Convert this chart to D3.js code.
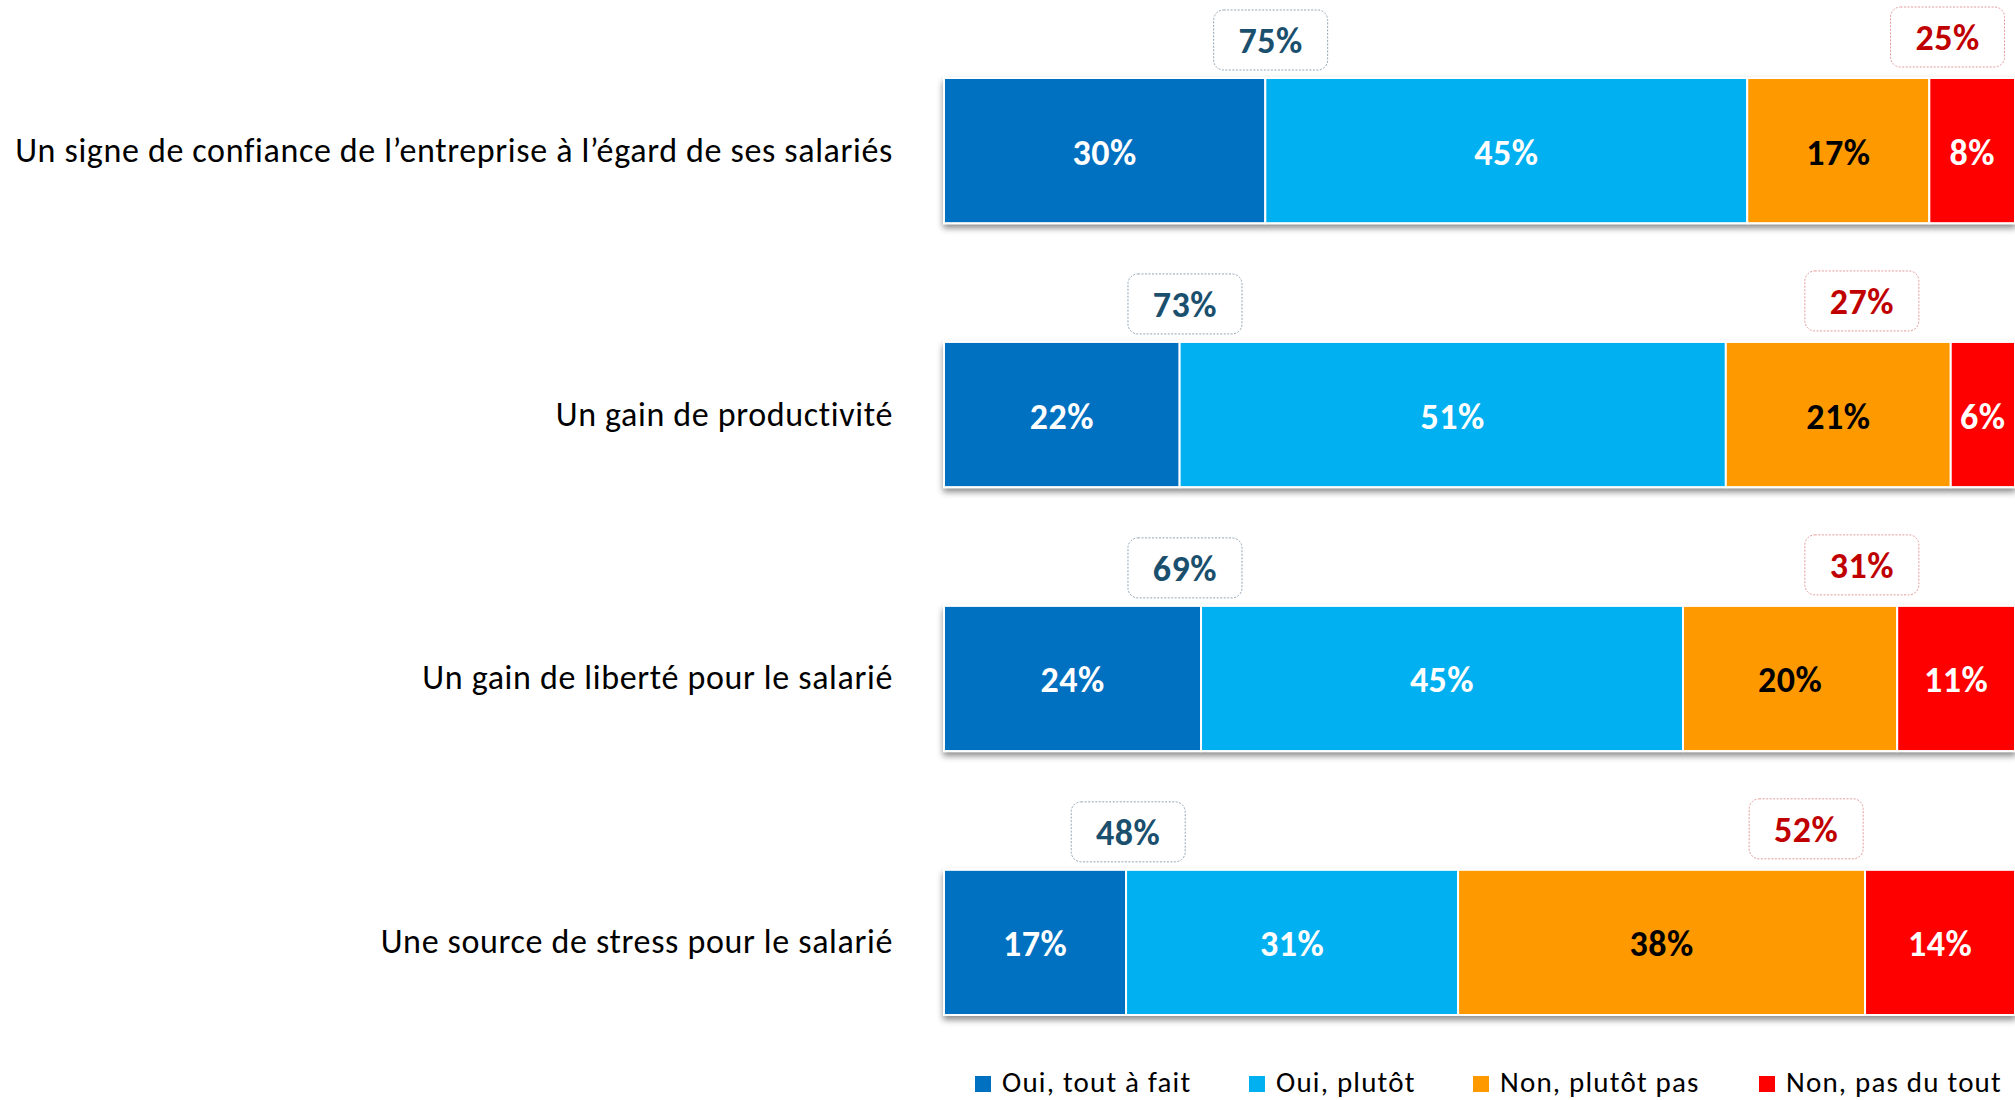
<!DOCTYPE html>
<html>
<head>
<meta charset="utf-8">
<script src="https://cdn.jsdelivr.net/npm/d3@7"></script>
<style>
  body { margin: 0; background: #fff; }
  svg { display: block; }
</style>
</head>
<body>
<div id="chart"></div>
<script>
const categories = [
    "Un signe de confiance de l\u2019entreprise \u00e0 l\u2019\u00e9gard de ses salari\u00e9s",
    "Un gain de productivit\u00e9",
    "Un gain de libert\u00e9 pour le salari\u00e9",
    "Une source de stress pour le salari\u00e9"
];
const seriesNames = ["Oui, tout \u00e0 fait", "Oui, plut\u00f4t", "Non, plut\u00f4t pas", "Non, pas du tout"];
const ouiToutAFait = [30, 22, 24, 17];
const ouiPlutot = [45, 51, 45, 31];
const nonPlutotPas = [17, 21, 20, 38];
const nonPasDuTout = [8, 6, 11, 14];

// where the total boxes sit, in % of the axis (hand placed in the original)
const ouiBoxAt = [30.5, 22.5, 22.5, 17.2];
const nonBoxAt = [93.7, 85.7, 85.7, 80.5];

const colors = ["#0070C0", "#00B0F0", "#FF9900", "#FF0000"];
const labelColors = ["#fff", "#fff", "#000", "#fff"];
const font = "Carlito, Calibri, Lato, sans-serif";

const W = 2015, H = 1100;
const svg = d3.select("#chart").append("svg")
    .attr("width", W)
    .attr("height", H);

const defs = svg.append("defs");
const f = defs.append("filter").attr("id", "shadow")
    .attr("x", "-5%").attr("y", "-10%").attr("width", "110%").attr("height", "130%");
f.append("feDropShadow")
    .attr("dx", 0).attr("dy", 4).attr("stdDeviation", 3)
    .attr("flood-color", "#000").attr("flood-opacity", 0.45);

const x = d3.scaleLinear().domain([0, 100]).range([944, 2015]);
const y = d3.scaleBand().domain(categories).range([78, 1015]).paddingInner(0.45).paddingOuter(0);

const rows = categories.map((c, i) => {
    const vals = [ouiToutAFait[i], ouiPlutot[i], nonPlutotPas[i], nonPasDuTout[i]];
    let acc = 0;
    const segs = vals.map((v, k) => {
        const s = { cat: c, k: k, v: v, x0: acc, x1: acc + v };
        acc += v;
        return s;
    });
    return { cat: c, i: i, segs: segs, oui: vals[0] + vals[1], non: vals[2] + vals[3] };
});

// category labels
svg.append("g").selectAll("text")
    .data(categories)
    .enter().append("text")
    .attr("x", 893)
    .attr("y", d => y(d) + y.bandwidth() / 2 + 11)
    .attr("text-anchor", "end")
    .style("font-family", font)
    .style("font-size", "34px")
    .style("letter-spacing", "0.65px")
    .style("fill", "#000")
    .text(d => d);

const rowG = svg.selectAll(".row")
    .data(rows)
    .enter().append("g")
    .attr("class", "row");

// bars
rowG.append("g")
    .attr("filter", "url(#shadow)")
    .selectAll("rect")
    .data(d => d.segs)
    .enter().append("rect")
    .attr("x", d => x(d.x0))
    .attr("y", d => y(d.cat))
    .attr("width", d => x(d.x1) - x(d.x0))
    .attr("height", y.bandwidth())
    .attr("fill", d => colors[d.k])
    .attr("stroke", "#fff")
    .attr("stroke-width", 2);

rowG.selectAll(".seglabel")
    .data(d => d.segs)
    .enter().append("text")
    .attr("class", "seglabel")
    .attr("x", d => (x(d.x0) + x(d.x1)) / 2)
    .attr("y", d => y(d.cat) + y.bandwidth() / 2 + 14)
    .attr("text-anchor", "middle")
    .style("font-family", font)
    .style("font-weight", "bold")
    .style("font-size", "36px")
    .style("letter-spacing", "0.5px")
    .style("fill", d => labelColors[d.k])
    .text(d => d.v + "%");

// total boxes
const boxW = 114, boxH = 60;
function totalBox(sel, at, key, stroke, color, dy) {
    const g = sel.append("g")
        .attr("transform", d => "translate(" + (x(at[d.i]) - boxW / 2) + "," + (y(d.cat) - dy) + ")");
    g.append("rect")
        .attr("width", boxW)
        .attr("height", boxH)
        .attr("rx", 10)
        .attr("fill", "#fff")
        .attr("stroke", stroke)
        .attr("stroke-width", 1)
        .attr("stroke-dasharray", "2,1.5");
    g.append("text")
        .attr("x", boxW / 2)
        .attr("y", boxH / 2 + 13)
        .attr("text-anchor", "middle")
        .style("font-family", font)
        .style("font-weight", "bold")
        .style("font-size", "36px")
        .style("letter-spacing", "0.5px")
        .style("fill", color)
        .text(d => d[key] + "%");
}
totalBox(rowG, ouiBoxAt, "oui", "#8FA5B5", "#1A4F6E", 68);
totalBox(rowG, nonBoxAt, "non", "#E59A9A", "#C00000", 71);

// legend
const legendX = [975, 1249, 1473, 1759];
const lg = svg.append("g").selectAll("g")
    .data(seriesNames)
    .enter().append("g")
    .attr("transform", (d, i) => "translate(" + legendX[i] + ",1092)");
lg.append("rect")
    .attr("x", 0).attr("y", -16)
    .attr("width", 16).attr("height", 16)
    .attr("fill", (d, i) => colors[i]);
lg.append("text")
    .attr("x", 27)
    .attr("y", 0)
    .style("font-family", font)
    .style("font-size", "29px")
    .style("letter-spacing", "1.2px")
    .style("fill", "#000")
    .text(d => d);
</script>
</body>
</html>
